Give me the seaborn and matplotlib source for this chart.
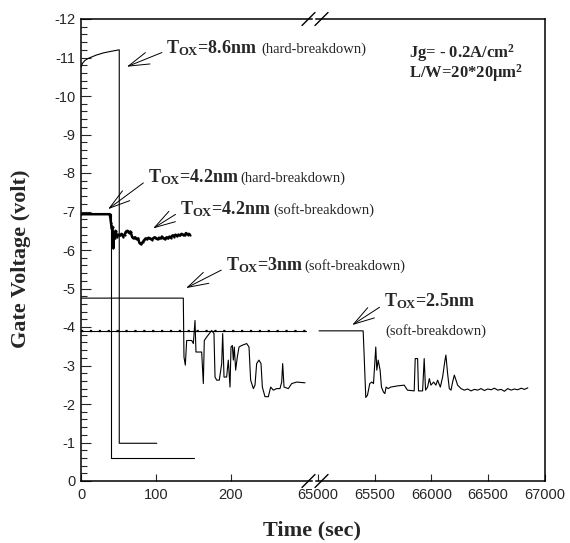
import matplotlib
matplotlib.use("Agg")
import matplotlib.pyplot as plt
import seaborn as sns
from matplotlib.lines import Line2D

# ---- data ----
# Tox = 8.6nm, hard breakdown
t_86 = [0, 2, 5, 10, 20, 30, 40, 51, 51, 101]
v_86 = [-10.75, -10.85, -10.92, -10.98, -11.06, -11.12, -11.16, -11.2, -0.98, -0.98]

# Tox = 4.2nm, hard breakdown
t_42h = [0, 40, 40, 150]
v_42h = [-6.93, -6.93, -0.6, -0.6]

# Tox = 4.2nm, soft breakdown (noisy trace)
t_42s = [0, 38, 39, 40, 41, 42, 43, 44, 45, 46, 48, 50, 52, 54, 56, 58, 60, 62, 64, 66,
         68, 70, 72, 74, 76, 78, 80, 82, 84, 86, 88, 90, 92, 94, 96, 98, 100, 102, 104, 106,
         108, 110, 112, 114, 116, 118, 120, 122, 124, 126, 128, 130, 132, 134, 136, 138, 140, 142, 144, 145]
v_42s = [-6.93, -6.93, -6.85, -6.7, -6.55, -6.6, -6.05, -6.45, -6.3, -6.5, -6.35, -6.4, -6.38, -6.42, -6.35, -6.4, -6.48, -6.5, -6.45, -6.48,
         -6.35, -6.3, -6.33, -6.28, -6.3, -6.18, -6.15, -6.2, -6.25, -6.3, -6.28, -6.32, -6.3, -6.27, -6.3, -6.33, -6.3, -6.28, -6.32, -6.3,
         -6.35, -6.3, -6.28, -6.33, -6.3, -6.35, -6.32, -6.38, -6.35, -6.4, -6.36, -6.4, -6.38, -6.42, -6.4, -6.38, -6.44, -6.4, -6.42, -6.4]

# Tox = 3nm, soft breakdown
t_3 = [0, 136.4, 137.3, 139.1, 140.9, 147.6, 149.8, 152.0, 153.3, 160.9, 163.1, 164.4, 167.6, 174.2, 177.3,
       178.7, 180.9, 184.4, 187.6, 188.9, 190.7, 194.2, 196.4, 198.7, 200.0, 201.8, 203.1, 204.4, 206.2,
       208.4, 210.7, 214.2, 220.9, 224.0, 226.2, 229.8, 232.0, 234.2, 237.3, 240.0, 241.8, 245.3, 249.8,
       252.9, 256.4, 260.9, 265.3, 267.6, 268.9, 270.7, 276.4, 280.9, 287.6, 298.7]
v_3 = [-4.75, -4.75, -3.22, -3.01, -3.65, -3.65, -3.57, -4.17, -3.35, -3.35, -2.53, -3.65, -3.74, -3.91, -3.83,
       -2.70, -2.62, -2.62, -3.05, -3.83, -2.70, -2.70, -3.14, -2.44, -3.48, -3.52, -3.14, -3.48, -2.88,
       -3.22, -3.48, -3.52, -3.57, -3.48, -2.62, -2.40, -2.49, -3.05, -3.14, -3.05, -2.44, -2.19, -2.19,
       -2.44, -2.36, -2.40, -2.40, -2.57, -3.05, -2.44, -2.40, -2.53, -2.57, -2.55]

# Tox = 2.5nm, soft breakdown (early part, left panel)
t_25a = [0, 300]
v_25a = [-3.9, -3.9]

# Tox = 2.5nm, soft breakdown (late part, right panel)
t_25b = [65012, 65400, 65408, 65423, 65438, 65458, 65476, 65491, 65502, 65511, 65520, 65532, 65549, 65561,
         65579, 65591, 65602, 65620, 65644, 65702, 65761, 65790, 65849, 65858, 65879, 65887, 65923, 65937,
         65949, 65967, 65982, 65996, 66020, 66040, 66055, 66079, 66099, 66120, 66128, 66143, 66158, 66173,
         66187, 66202, 66217, 66231, 66261, 66290, 66320, 66349, 66378, 66408, 66437, 66467, 66496, 66526,
         66555, 66584, 66614, 66643, 66672, 66702, 66731, 66760, 66790, 66819, 66849]
v_25b = [-3.9, -3.9, -3.31, -2.17, -2.23, -2.53, -2.57, -2.53, -3.05, -3.48, -2.88, -3.14, -2.88, -2.44,
         -2.31, -2.27, -2.44, -2.40, -2.44, -2.47, -2.49, -2.36, -2.34, -3.18, -3.18, -2.34, -2.34, -3.18,
         -2.36, -2.44, -2.66, -2.49, -2.57, -2.49, -2.62, -2.44, -2.70, -3.14, -3.27, -2.79, -2.40, -2.36,
         -2.57, -2.75, -2.62, -2.49, -2.40, -2.36, -2.39, -2.34, -2.38, -2.36, -2.40, -2.35, -2.39, -2.37,
         -2.41, -2.36, -2.38, -2.33, -2.40, -2.36, -2.39, -2.37, -2.41, -2.38, -2.42]

left_ticks = [0, 100, 200]
right_ticks = [65000, 65500, 66000, 66500, 67000]
y_ticks = list(range(0, -13, -1))

# ---- style ----
sns.set_theme(style="ticks")
plt.rcParams["font.family"] = ["Liberation Serif", "DejaVu Serif"]
plt.rcParams["axes.unicode_minus"] = False
plt.rcParams["mathtext.fontset"] = "custom"
plt.rcParams["mathtext.rm"] = "Liberation Serif"
plt.rcParams["mathtext.bf"] = "Liberation Serif:bold"
plt.rcParams["mathtext.it"] = "Liberation Serif:italic"

W, H = 570, 543
fig = plt.figure(figsize=(W / 100, H / 100), dpi=100)
fig.patch.set_facecolor("white")

axL = fig.add_axes([81 / W, 1 - 481 / H, 231 / W, 462 / H])
axR = fig.add_axes([316 / W, 1 - 481 / H, 229 / W, 462 / H])
for ax in (axL, axR):
    ax.set_facecolor("none")
    ax.set_ylim(0, -12)
    for s in ax.spines.values():
        s.set_linewidth(1.1)
        s.set_color("black")

axL.set_xlim(0, 308)
axR.set_xlim(64985, 67000)

lw = 0.8
kw = dict(color="black", sort=False, estimator=None, legend=False)
sns.lineplot(x=t_86, y=v_86, ax=axL, lw=lw, **kw)
sns.lineplot(x=t_42h, y=v_42h, ax=axL, lw=lw, **kw)
sns.lineplot(x=t_42s, y=v_42s, ax=axL, lw=1.8, marker="o", markersize=1.6, markeredgewidth=0, **kw)
sns.lineplot(x=t_3, y=v_3, ax=axL, lw=lw, **kw)
sns.lineplot(x=t_25a, y=v_25a, ax=axL, lw=lw, **kw)
axL.plot(t_25a, v_25a, color="black", lw=1.6, ls=(0, (1, 3)))
sns.lineplot(x=t_25b, y=v_25b, ax=axR, lw=lw, **kw)

# spines / ticks
axL.spines["right"].set_visible(False)
axR.spines["left"].set_visible(False)
axL.set_xticks(left_ticks)
axR.set_xticks(right_ticks)
axL.set_yticks(y_ticks)
axL.set_yticks([v / 5 for v in range(0, -61, -1)], minor=True)
axR.set_yticks([])
axL.tick_params(axis="y", which="major", direction="in", length=7, width=0.8, labelsize=10.5, pad=4)
axL.tick_params(axis="y", which="minor", direction="in", length=4, width=0.8)
for ax in (axL, axR):
    ax.tick_params(axis="x", which="major", direction="in", length=5, width=0.8, labelsize=10.5, pad=5, top=False)
    ax.tick_params(axis="x", which="minor", bottom=False, top=False)
    for lab in ax.get_xticklabels() + ax.get_yticklabels():
        lab.set_fontfamily("Liberation Sans")
axL.set_xlabel("")
axR.set_xlabel("")
axR.set_ylabel("")

axL.set_ylabel("Gate Voltage (volt)", fontsize=16, fontweight="bold")
axL.yaxis.set_label_coords(-0.215, 0.48)
fig.text(312 / W, 1 - 530 / H, "Time (sec)", ha="center", va="center", fontsize=16, fontweight="bold")

# annotations
arrow = dict(arrowstyle="->,head_length=0.75,head_width=0.22", color="black", lw=0.7,
             mutation_scale=20, shrinkA=1, shrinkB=0, relpos=(0, 0.35))
tox = r"$\mathbf{T}_{\mathbf{OX}}$"


def label(ax, text, note, xy, xytext, note_xy):
    ax.annotate(tox + text, xy=xy, xytext=xytext, fontsize=13, fontweight="bold",
                ha="left", va="baseline", arrowprops=arrow, annotation_clip=False)
    ax.text(note_xy[0], note_xy[1], note, fontsize=10.5, ha="left", va="baseline", clip_on=False)


label(axL, "=8.6nm", "(hard-breakdown)", (61, -10.76), (114, -11.12), (240, -11.12))
label(axL, "=4.2nm", "(hard-breakdown)", (36, -7.06), (89, -7.77), (213, -7.77))
label(axL, "=4.2nm", "(soft-breakdown)", (96, -6.56), (132, -6.94), (256, -6.94))
label(axL, "=3nm", "(soft-breakdown)", (140, -5.01), (193, -5.48), (298, -5.48))
label(axR, "=2.5nm", "(soft-breakdown)", (65303, -4.05), (65583, -4.53), (65598, -3.8))

axR.text(65802, -10.99, r"Jg= - 0.2A/cm$^{\mathbf{2}}$", fontsize=12, fontweight="bold", ha="left", va="baseline")
axR.text(65802, -10.47, r"L/W=20*20μm$^{\mathbf{2}}$", fontsize=12, fontweight="bold", ha="left", va="baseline")

# axis break marks (figure pixel coordinates)
for yc in (19, 481):
    for x0 in (302, 315):
        fig.add_artist(Line2D([x0 / W, (x0 + 13) / W], [1 - (yc + 6.5) / H, 1 - (yc - 6.5) / H],
                              transform=fig.transFigure, color="black", lw=1.0))

fig.savefig("out.png", dpi=100, facecolor="white")
